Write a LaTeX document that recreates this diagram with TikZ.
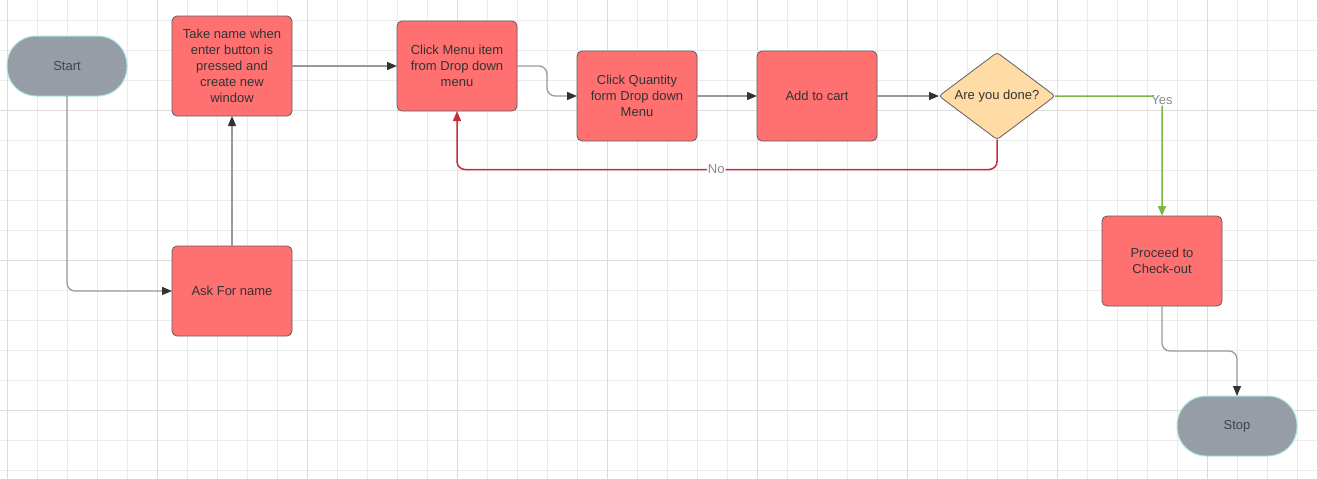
\documentclass[tikz,border=0pt]{standalone}
\usepackage{fontspec}
\setmainfont{Liberation Sans}
\usetikzlibrary{positioning,arrows.meta,shapes.geometric}

\definecolor{boxred}{HTML}{FF7070}
\definecolor{boxline}{HTML}{5E5E5E}
\definecolor{boxtext}{HTML}{333333}
\definecolor{termgray}{HTML}{979DA7}
\definecolor{termline}{HTML}{A9E9E1}
\definecolor{termtext}{HTML}{3F4452}
\definecolor{decfill}{HTML}{FFDBA6}
\definecolor{linegray}{HTML}{999999}
\definecolor{tipgray}{HTML}{333333}
\definecolor{yesgreen}{HTML}{7AB648}
\definecolor{nored}{HTML}{C92D39}
\definecolor{labelgray}{HTML}{8A8A8A}
\definecolor{minorgrid}{HTML}{EBEBEB}
\definecolor{majorgrid}{HTML}{DDDDDD}

\begin{document}
\begin{tikzpicture}[x=1pt,y=-1pt,font=\fontsize{13}{16}\selectfont,
    process/.style={rectangle,rounded corners=5pt,draw=boxline,line width=0.8pt,fill=boxred,text=boxtext,
        minimum width=120pt,minimum height=90pt,align=center,inner sep=2pt,outer sep=0pt},
    terminal/.style={rectangle,rounded corners=29pt,draw=termline,line width=1pt,fill=termgray,text=termtext,
        minimum width=120pt,minimum height=60pt,outer sep=0pt},
    decision/.style={diamond,aspect=1.33,rounded corners=3pt,draw=boxline,line width=0.8pt,fill=decfill,text=boxtext,
        minimum width=116pt,minimum height=87pt,inner sep=0pt,outer sep=0pt},
    link/.style={draw=linegray,line width=1.3pt,rounded corners=8pt,-{Triangle[length=10pt,width=8pt,color=tipgray]}},
    yes link/.style={draw=yesgreen,line width=1.5pt,rounded corners=8pt,-{Triangle[length=10pt,width=8pt]}},
    no link/.style={draw=nored,line width=1.5pt,rounded corners=8pt,-{Triangle[length=10pt,width=8pt]}},
    edge label/.style={fill=white,text=labelgray,inner sep=1pt}]

\useasboundingbox (0,0) rectangle (1317,479);

% grid
\foreach \gx in {7,37,...,1317} \draw[minorgrid,line width=0.8pt] (\gx,0) -- (\gx,479);
\foreach \gy in {20,50,...,479} \draw[minorgrid,line width=0.8pt] (0,\gy) -- (1317,\gy);
\foreach \gx in {7,157,...,1317} \draw[majorgrid,line width=0.8pt] (\gx,0) -- (\gx,479);
\foreach \gy in {110,260,410} \draw[majorgrid,line width=0.8pt] (0,\gy) -- (1317,\gy);

\node[terminal] (start) at (67,66) {Start};
\node[process,minimum height=100pt] (take) [right=45pt of start] {Take name when\\enter button is\\pressed and\\create new\\window};
\node[process] (ask) [below=130pt of take] {Ask For name};
\node[process] (menu) [right=105pt of take] {Click Menu item\\from Drop down\\menu};
\node[process] (qty) [right=60pt of menu,yshift=-30pt] {Click Quantity\\form Drop down\\Menu};
\node[process] (cart) [right=60pt of qty] {Add to cart};
\node[decision] (done) [right=62pt of cart] {Are you done?};
\node[process] (proceed) at (1162,261) {Proceed to\\Check-out};
\node[terminal] (stop) at (1237,426) {Stop};

\draw[link] (start.south) |- (ask.west);
\draw[link] (ask.north) -- (take.south);
\draw[link] (take.east) -- (menu.west);
\draw[link] (menu.east) -- ++(30,0) |- (qty.west);
\draw[link] (qty) -- (cart);
\draw[link] (cart) -- (done);
\draw[yes link] (done.east) -| node[edge label,pos=0.5,yshift=-4pt] {Yes} (proceed.north);
\draw[no link] (done.south) -- ++(0,30) -| node[edge label,pos=0.26] {No} (menu.south);
\draw[link] (proceed.south) -- ++(0,45) -| (stop.north);

\end{tikzpicture}
\end{document}
